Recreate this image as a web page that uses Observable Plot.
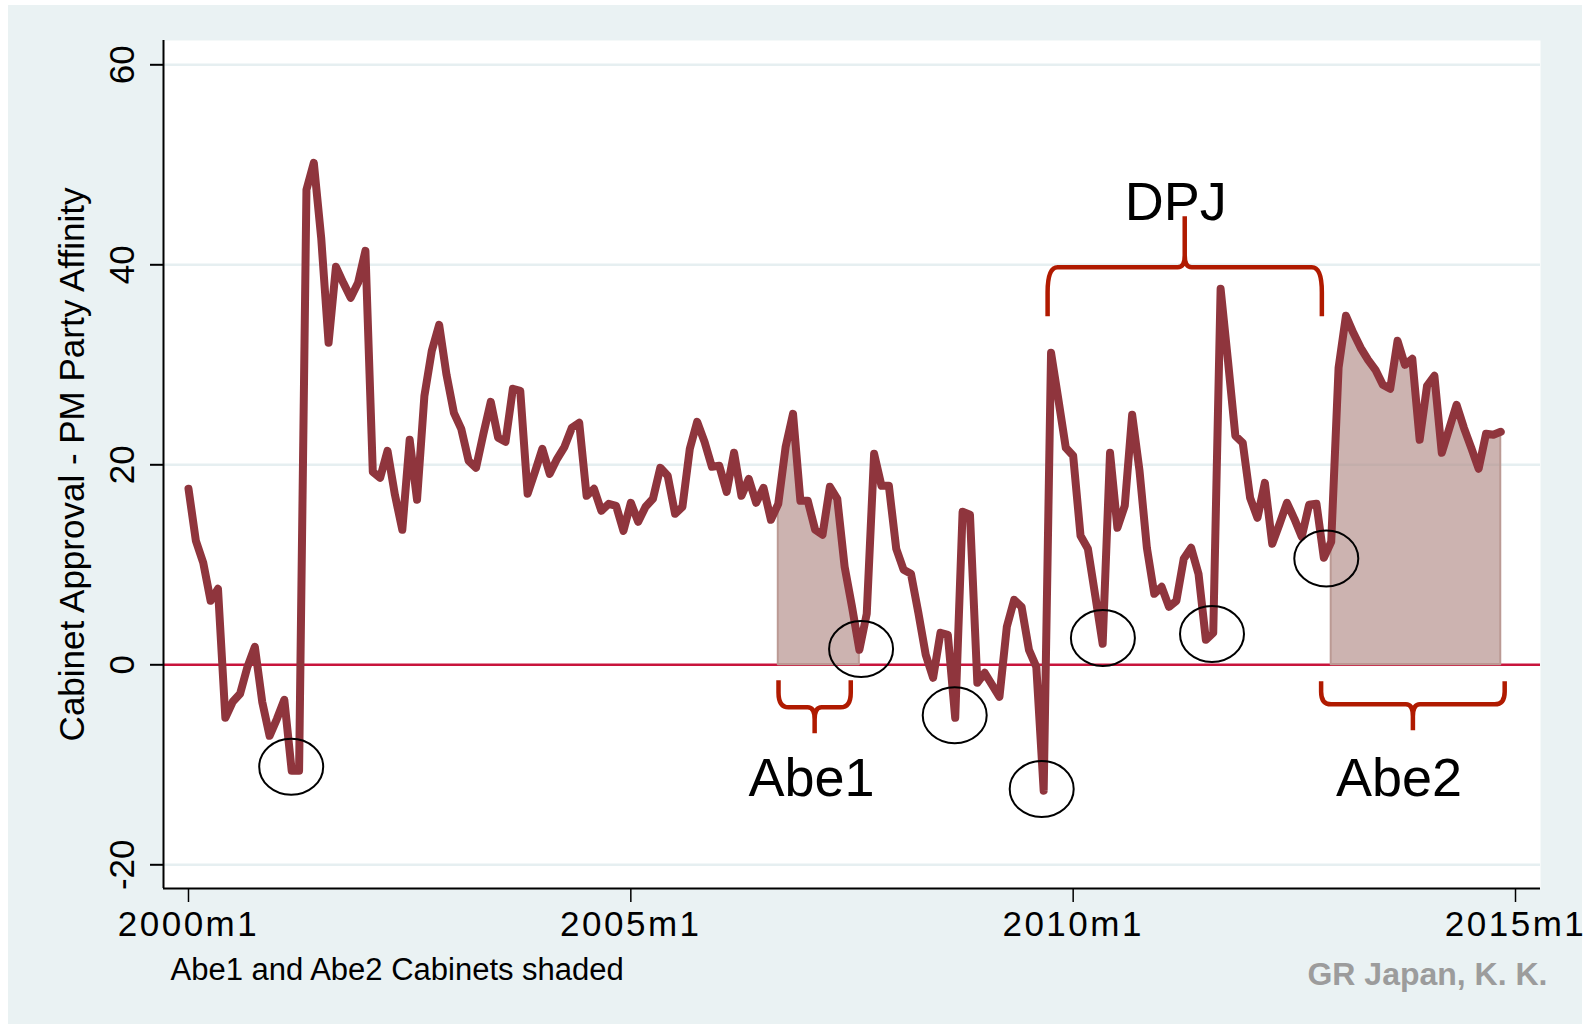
<!DOCTYPE html>
<html>
<head>
<meta charset="utf-8">
<script src="https://cdn.jsdelivr.net/npm/d3@7"></script>
<script src="https://cdn.jsdelivr.net/npm/@observablehq/plot@0.6"></script>
<style>
html, body { margin: 0; padding: 0; background: #ffffff; overflow: hidden; }
#wrap { position: relative; width: 1594px; height: 1024px; }
#bg { position: absolute; left: 8px; top: 5px; width: 1574px; height: 1019px; background: #eaf2f3; }
#chart { position: absolute; left: 0; top: 0; }
#chart svg [aria-label^="x-axis"] text { font-size: 35px; letter-spacing: 2.5px; }
#chart svg [aria-label^="y-axis"] path, #chart svg [aria-label^="y-axis"] line { stroke-width: 2px; }
#chart svg [aria-label^="x-axis"] path, #chart svg [aria-label^="x-axis"] line { stroke-width: 1.5px; }
</style>
</head>
<body>
<div id="wrap"><div id="bg"></div><div id="chart"></div></div>
<script>
// ---- data (monthly, starting 2000m1) ----
const startYear = 2000;
const values = [
  17.6, 12.4, 10.2, 6.4, 7.6, -5.3, -3.7, -2.9, -0.2, 1.8, -3.7, -7.1,      // 2000
  -5.4, -3.5, -10.6, -10.6, 47.5, 50.2, 42.7, 32.2, 39.8, 38.2, 36.7, 38.2, // 2001
  41.4, 19.3, 18.7, 21.4, 17.0, 13.5, 22.5, 16.5, 26.9, 31.4, 34.0, 29.0,   // 2002
  25.2, 23.6, 20.4, 19.7, 23.1, 26.3, 22.7, 22.3, 27.6, 27.4, 17.1, 19.3,   // 2003
  21.6, 19.1, 20.6, 21.8, 23.7, 24.2, 16.9, 17.6, 15.4, 16.1, 15.9, 13.4,   // 2004
  16.2, 14.3, 15.8, 16.6, 19.7, 18.9, 15.1, 15.8, 21.6, 24.3, 22.3, 19.8,   // 2005
  19.9, 17.3, 21.2, 16.9, 18.6, 16.2, 17.7, 14.5, 16.1, 21.8, 25.1, 16.4,   // 2006
  16.4, 13.5, 13.0, 17.8, 16.6, 9.8, 5.8, 1.5, 5.1, 21.1, 17.9, 17.9,       // 2007
  11.6, 9.5, 9.1, 5.2, 1.0, -1.3, 3.2, 3.0, -5.3, 15.3, 15.0, -1.8,         // 2008
  -0.8, -2.0, -3.2, 3.8, 6.5, 5.8, 1.5, -0.2, -12.6, 31.2, 26.5, 21.7,      // 2009
  20.9, 12.9, 11.6, 6.9, 2.1, 21.2, 13.7, 15.9, 25.0, 19.4, 11.7, 7.1,      // 2010
  7.8, 5.8, 6.4, 10.6, 11.7, 9.1, 2.5, 3.2, 37.6, 30.4, 22.9, 22.2,         // 2011
  16.7, 14.7, 18.2, 12.1, 14.1, 16.2, 14.6, 12.8, 16.0, 16.1, 10.7, 12.3,   // 2012
  29.7, 34.9, 33.2, 31.7, 30.5, 29.5, 28.0, 27.6, 32.4, 30.0, 30.6, 22.5,   // 2013
  27.9, 28.9, 21.2, 23.6, 26.0, 23.7, 21.7, 19.6, 23.1, 23.0, 23.3          // 2014 (to m11)
];
const xTickMonths = [0, 60, 120, 180];
const xTickLabels = ["2000m1", "2005m1", "2010m1", "2015m1"];
const yTicks = [-20, 0, 20, 40, 60];
const abe1Months = [80, 91];    // 2006m9 - 2007m8
const abe2Months = [155, 178];  // 2012m12 - 2014m11
const yTitle = "Cabinet Approval - PM Party Affinity";
const note = "Abe1 and Abe2 Cabinets shaded";
const credit = "GR Japan, K. K.";

// annotations (in data units: month index, value)
const periodLabels = ["DPJ", "Abe1", "Abe2"];
const periodLabelX = [133.9, 84.5, 164.2];
const periodLabelY = [46.2, -11.44, -11.44];
const braceFrom = [116.6, 80.1, 153.7];
const braceTo = [153.8, 89.9, 178.6];
const braceEnd = [34.8, -1.6, -1.7];
const braceMid = [39.7, -4.3, -4.0];
const braceTip = [44.8, -6.9, -6.6];
const circleMonth = [14.0, 91.3, 104.0, 115.8, 124.1, 138.9, 154.4];
const circleValue = [-10.24, 1.53, -5.1, -12.47, 2.63, 3.03, 10.58];

// ---- build ----
const data = values.map((v, i) => ({i, v}));
const abe1 = data.filter(d => d.i >= abe1Months[0] && d.i <= abe1Months[1]);
const abe2 = data.filter(d => d.i >= abe2Months[0] && d.i <= abe2Months[1]);
const xDomain = [-3.39, 183.39];
const yDomain = [-22.37, 62.43];
const font = "'Liberation Sans', Arial, Helvetica, sans-serif";

const plot = Plot.plot({
  width: 1594,
  height: 1024,
  marginLeft: 163,
  marginRight: 54,
  marginTop: 40,
  marginBottom: 136,
  style: {background: "transparent", fontFamily: font, overflow: "visible"},
  x: {domain: xDomain, ticks: xTickMonths, tickFormat: d => xTickLabels[xTickMonths.indexOf(d)], tickSize: 14, tickPadding: 9, label: null},
  y: {domain: yDomain, ticks: yTicks, tickFormat: () => "", tickSize: 13, tickPadding: 0, label: null},
  marks: [
    Plot.frame({fill: "white", stroke: "none"}),
    Plot.ruleY(yTicks.filter(d => d !== 0), {stroke: "#e6eff1", strokeWidth: 2.5}),
    Plot.ruleY([0], {stroke: "#c8143c", strokeWidth: 2.5}),
    Plot.areaY(abe1, {x: "i", y: "v", fill: "#b08b85", fillOpacity: 0.65, stroke: "#bb9a94", strokeWidth: 2}),
    Plot.areaY(abe2, {x: "i", y: "v", fill: "#b08b85", fillOpacity: 0.65, stroke: "#bb9a94", strokeWidth: 2}),
    Plot.line(data, {x: "i", y: "v", stroke: "#8f353d", strokeWidth: 8, strokeLinejoin: "round", strokeLinecap: "round"}),
    Plot.ruleX([xDomain[0]], {stroke: "black", strokeWidth: 2}),
    Plot.ruleY([yDomain[0]], {stroke: "black", strokeWidth: 2}),
    Plot.text(yTicks, {y: d => d, text: d => String(d), frameAnchor: "left", dx: -41, rotate: -90, fontSize: 35, textAnchor: "middle", fill: "black"}),
    Plot.text([yTitle], {text: d => d, frameAnchor: "left", dx: -91, rotate: -90, fontSize: 35, textAnchor: "middle", fill: "black"}),
    Plot.text(periodLabels, {x: (d, i) => periodLabelX[i], y: (d, i) => periodLabelY[i], text: d => d, fontSize: 54, textAnchor: "middle", fill: "black"}),
    Plot.text([note], {text: d => d, frameAnchor: "bottom-left", dx: 7, dy: 91, textAnchor: "start", fontSize: 31, fill: "black"}),
    Plot.text([credit], {text: d => d, frameAnchor: "bottom-right", dx: 7, dy: 96, textAnchor: "end", fontSize: 32, fontWeight: "bold", fill: "#9c9c9c"})
  ]
});
document.getElementById("chart").appendChild(plot);

// ---- annotation shapes via the plot's own scales ----
const sx = plot.scale("x"), sy = plot.scale("y");
const fx = sx.apply ? (v => sx.apply(v)) : d3.scaleLinear(sx.domain, sx.range);
const fy = sy.apply ? (v => sy.apply(v)) : d3.scaleLinear(sy.domain, sy.range);
const svg = d3.select(plot);
const g = svg.append("g").attr("aria-label", "annotations");

function bracePath(x1, x2, ye, ym, yt) {
  const dir = Math.sign(yt - ym);
  const rv = Math.min(25, Math.abs(ym - ye) * 0.55);
  const rh = 10, s = 7;
  const xc = (x1 + x2) / 2;
  return `M${x1},${ye} L${x1},${ym - dir * rv} Q${x1},${ym} ${x1 + rh},${ym} L${xc - s},${ym} Q${xc},${ym} ${xc},${ym + dir * 12} L${xc},${yt}` +
         ` M${xc},${ym + dir * 12} Q${xc},${ym} ${xc + s},${ym} L${x2 - rh},${ym} Q${x2},${ym} ${x2},${ym - dir * rv} L${x2},${ye}`;
}
periodLabels.forEach((lab, k) => {
  g.append("path")
    .attr("d", bracePath(fx(braceFrom[k]), fx(braceTo[k]), fy(braceEnd[k]), fy(braceMid[k]), fy(braceTip[k])))
    .attr("fill", "none")
    .attr("stroke", "#b01a00")
    .attr("stroke-width", 4.5)
    .attr("stroke-linejoin", "round");
});
circleMonth.forEach((m, k) => {
  g.append("ellipse")
    .attr("cx", fx(m))
    .attr("cy", fy(circleValue[k]))
    .attr("rx", 32)
    .attr("ry", 28)
    .attr("fill", "none")
    .attr("stroke", "black")
    .attr("stroke-width", 2);
});
</script>
</body>
</html>
